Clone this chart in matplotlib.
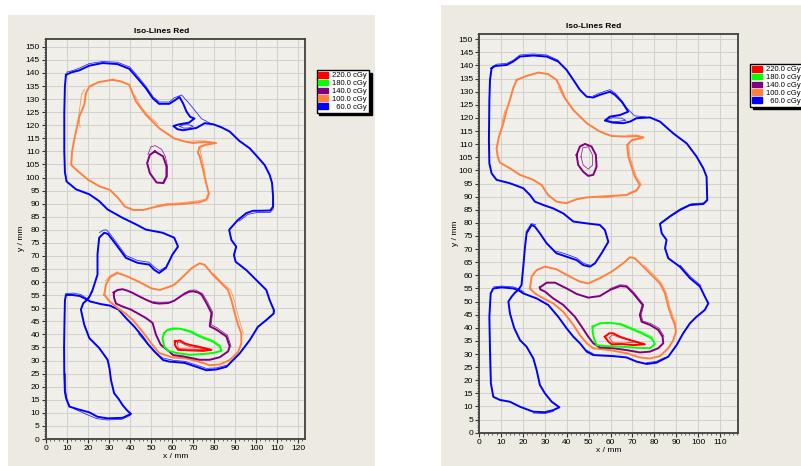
import matplotlib
matplotlib.use("Agg")
import matplotlib.pyplot as plt
import numpy as np
from matplotlib.patches import Patch, Rectangle
from matplotlib.ticker import MultipleLocator

plt.rcParams["font.family"] = ["Liberation Sans", "DejaVu Sans"]

DOSE_LABELS = ["220.0 cGy", "180.0 cGy", "140.0 cGy", "100.0 cGy", "  60.0 cGy"]
DOSE_COLORS = ["#ff0000", "#00ff00", "#800080", "#ff8040", "#0000ff"]
C220, C180, C140, C100, C60 = DOSE_COLORS

# ---- left plan: iso-lines (x, y) in mm ----
L_BLUE_OUTER = [
    (9.5, 139.3), (12, 140.2), (15.8, 141.0), (20.6, 142.8), (26.9, 143.8), (34, 143.4),
    (39.6, 141.6), (43.5, 138), (47.5, 134.2), (50.7, 130.4), (53.8, 128.2), (58.6, 128.2),
    (61, 129.4), (63.5, 130.8), (65.2, 128.4), (66.8, 125.3), (68.6, 123.2), (70.6, 122.6),
    (68, 121), (63, 120.3), (60.6, 119.7), (62.5, 118.5), (65.2, 118.1), (71.6, 119.0),
    (75.5, 120.8), (79.5, 120.4), (83.5, 119.2), (87.4, 117.6), (92, 114), (96.9, 111.2),
    (100.5, 108), (104, 104.8), (106.4, 101), (107.5, 98), (108, 93), (108, 88.9),
    (106.7, 87.4), (102, 87.3), (98.5, 87.3), (95.3, 86.4), (91.3, 83.8), (87.1, 80),
    (88.2, 76.1), (90.5, 73.6), (89.4, 70.4), (90.2, 67.8), (95.3, 64.6), (100.8, 60.2),
    (104.8, 57), (106.4, 53.1), (108.4, 49.3), (108.3, 48), (104.8, 45.5), (100.8, 42.9),
    (96.9, 37.8), (92.1, 32.7), (89, 30.2), (85.8, 27.6), (81, 26.6), (76.3, 26.3),
    (71.6, 27.6), (66, 29.1), (60.5, 29.5), (58.6, 29.6), (55.7, 30.2), (52.3, 32.9),
    (48.6, 36.2), (45.9, 39.2), (42, 43), (38, 46.3), (34.5, 49.5), (30.5, 51),
    (26.1, 51.6), (21, 52.6), (19.6, 53.3), (20.4, 54), (22.2, 57.1), (24.5, 62.9),
    (24.5, 70.6), (25.3, 77), (27.7, 78.9), (29.5, 78.4), (33.3, 74.4), (38, 69.3),
    (43.5, 67.4), (49.1, 66.7), (51.5, 64.7), (53.8, 63.5), (57, 65.4), (60.2, 70.6),
    (62.8, 73.6), (61, 77), (55.4, 78.9), (47.5, 80.1), (42.8, 82.1), (36.4, 84.6),
    (29.3, 87.8), (25.3, 91), (20.6, 93.6), (14.3, 95.5), (9.8, 98.5), (9, 102),
    (8.7, 110), (8.7, 125), (9, 135), (9.5, 139.3),
]
L_BLUE_LOWER = [
    (19.6, 53.3), (16.1, 54.7), (12.5, 55.1), (9.5, 55.1), (9, 53), (8.8, 45), (8.6, 35),
    (8.7, 25), (9, 18), (9.6, 15.5), (11.1, 12.4), (15.5, 11.3), (20.6, 10.2), (24.5, 8.5),
    (29.3, 7.9), (36.4, 8.1), (40.4, 9.6), (38.5, 11), (36.4, 13), (34.4, 15.5),
    (32.4, 17.5), (30.9, 22.6), (30.2, 27), (29.3, 30.3), (25.3, 34.8), (20.6, 38.6),
    (18.2, 43.7), (16.6, 49.5), (17.7, 51.9), (19.6, 53.3),
]
L_ORANGE_UPPER = [
    (31.7, 137.4), (35.5, 136.8), (39.6, 135.5), (42.8, 129.1), (47.5, 124), (53.8, 118.9),
    (60.9, 115), (66, 113.8), (69.9, 113.2), (73.1, 113.5), (77, 113.6), (81, 113.2),
    (76.5, 112.7), (73, 111.7), (72.3, 109.5), (73.1, 108.1), (74.7, 103), (76, 98.5),
    (77.4, 94), (76.3, 91.5), (73.1, 90.6), (65.2, 89.9), (57.3, 89.6), (52.6, 88.9),
    (46.2, 87.6), (41.5, 87.6), (37.5, 88.9), (34.4, 92.1), (30.4, 95.3), (25.6, 96.6),
    (20.1, 99.1), (15.4, 102.3), (12, 104.8), (12.4, 109.9), (13.9, 116.3), (15.8, 123.3),
    (18.2, 127.8), (19, 132.3), (20.6, 134.8), (25, 136.5), (31.7, 137.4),
]
L_PURPLE_UPPER = [
    (51.8, 110), (55.7, 108.1), (57.3, 104.3), (57.3, 100.4), (55.7, 97.9), (52.6, 98.1),
    (49.4, 101.7), (48.1, 105.5), (49.4, 108.7), (51.8, 110),
]
L_ORANGE_LOWER = [
    (27.7, 55.2), (28.5, 59), (30.5, 62), (34.1, 63.5), (38.3, 62.3), (44.3, 60.1),
    (50.2, 57.6), (54.1, 57), (58.9, 58.3), (61, 59), (64.4, 61.5), (69.2, 65.3),
    (73.1, 67.2), (75.5, 66.6), (79.5, 62.7), (82.6, 60.2), (86.6, 57), (88.2, 53.1),
    (89.8, 48), (91.4, 43.6), (92.9, 40.4), (92.9, 36.5), (91.4, 33.3), (87.4, 30.2),
    (82.6, 28.5), (77.9, 28.2), (73.1, 29.5), (66.8, 30.8), (60.5, 31.2), (58.6, 31.6),
    (53.8, 32.9), (50.7, 36), (45.9, 41.1), (41.2, 45.6), (37.5, 48.2), (34.1, 50.1),
    (30.4, 52.5), (27.7, 55.2),
]
L_PURPLE_LOWER = [
    (32.2, 56), (34, 57), (36.4, 57.3), (38.5, 56.8), (41.2, 55.9), (44, 54.7), (47.5, 53.3),
    (51, 52.1), (53.8, 51.8), (58.1, 52), (61, 52.9), (65.2, 55.2), (68, 56.3), (70, 56.5),
    (72.5, 56), (74, 55.2), (76.3, 52), (78.7, 48.2), (77.9, 43.1), (81.1, 41.8),
    (85.8, 39.2), (87.4, 35.4), (86.6, 33.5), (82.7, 31.3), (77.9, 30.3), (73.2, 30.3),
    (65.2, 31.6), (60.5, 32.1), (58.6, 33.5), (54.6, 36), (52.3, 39.9), (50.7, 44.4),
    (47.5, 46.3), (40.4, 49.5), (36, 50.8), (33.3, 51.8), (32.4, 54), (32.2, 56),
]
L_GREEN = [
    (56.2, 40.5), (57.8, 41.8), (60.5, 42.3), (63.7, 42.2), (68.4, 41.1), (73.2, 39.2),
    (79.5, 37.2), (82.7, 35.4), (83.5, 33.7), (79.5, 32.9), (74.7, 32.5), (68.4, 32.2),
    (62.1, 32.9), (58, 33.8), (56.2, 35.4), (55.4, 38.6), (56.2, 40.5),
]
L_RED = [
    (61.3, 37.3), (63.7, 37.7), (66, 36.6), (68.4, 36), (73.2, 35.2), (78.7, 34.1),
    (74.7, 33.7), (68.4, 33.9), (62.8, 34.1), (61.3, 36), (61.3, 37.3),
]
L_BLUE_EYE = [(63.6, 119.6), (65.5, 120.2), (68, 120.2), (70, 119.6), (68, 119.0), (65.5, 118.9), (63.6, 119.6)]

# second (thin) traces of the same levels, where they part from the first
L_THIN_BLUE = [
    [(9.8, 140.3), (13, 141), (16, 141.9), (20.6, 143.6), (27, 144.4), (34, 144.1), (39.8, 142.3),
     (43.8, 138.6), (47.8, 134.6), (51, 130.8), (54, 128.9), (58.6, 128.9), (61, 130.5),
     (64.5, 131.6), (69, 127.5), (74, 122.5), (78, 120.8)],
    [(108.3, 90), (108, 87.8), (106.5, 86.6), (100, 86.6), (96, 85.9), (91.8, 83.3)],
    [(104.5, 45.2), (108, 47.6), (108.7, 49.2)],
    [(25.5, 79), (27.2, 79.9), (28.8, 80), (30, 78.9), (33.5, 75.2), (38, 70.2), (43.5, 68.3),
     (49, 67.6), (51.8, 65.6), (54, 64.4), (56.5, 65.6)],
    [(9.3, 55.6), (13, 55.8), (16.5, 55.3), (19.5, 53.7), (21, 55), (22.3, 56.5)],
    [(44, 40.2), (48, 36.6), (51.5, 33.3), (55.5, 31), (60.5, 30.1), (66, 29.7), (71.6, 28.3),
     (76.3, 27.0), (81, 27.2), (85.8, 28.2)],
    [(13, 11.7), (19.3, 9.4), (24.1, 7.8), (28.8, 7.3), (36, 7.5), (40, 9)],
    [(9.3, 25), (9.4, 18), (10, 15), (11.5, 12.3)],
]
L_THIN_ORANGE = [
    [(16.2, 119), (15.6, 124), (16.3, 128), (16.9, 131.8), (18.3, 133.8)],
    [(68, 113.9), (72, 114.1), (76, 114), (80.3, 113.1), (76, 112.3), (74, 111.8), (73.4, 110),
     (74.6, 106), (75.7, 101.5)],
    [(42.3, 131.5), (45.2, 127), (48.5, 124), (53.2, 120.5)],
    [(52.6, 89.3), (57.3, 90), (65.2, 90.4), (73, 91.2), (77, 92), (77.9, 94)],
    [(79.8, 63.3), (83.8, 59.8), (87.8, 57), (89.6, 53), (91.1, 48), (92.6, 43.7), (93.9, 40.4)],
    [(28.2, 60.5), (30.8, 62.6), (34.1, 64)],
]
L_THIN_PURPLE = [
    [(48.5, 108.8), (49.9, 111.8), (52, 112.2), (55, 110.8), (56.8, 108), (57.8, 104.3),
     (57.7, 100.4), (56, 97.6)],
    [(65.5, 55.7), (68.5, 56.9), (71, 57), (74.5, 55.6), (76.9, 52.3), (79.3, 48.5), (78.5, 43.8),
     (81.6, 42.4), (86.3, 39.7), (88, 35.5)],
    [(51, 52.5), (53.8, 52.3), (58.1, 52.4)],
]
L_THIN_GREEN = [[(58, 41.4), (63.7, 42.3), (68.4, 41.6), (73.2, 39.7), (79.5, 37.7), (83, 35.8)]]
L_THIN_RED = [[(62.5, 36.8), (64, 37), (66.2, 36), (68.5, 35.3), (73, 34.8), (77, 34.2),
               (72, 34.3), (66, 34.5), (63, 34.6), (62.5, 36.8)]]

# ---- right plan ----
R_BLUE_OUTER = [
    (5.6, 138.9), (7.2, 139.8), (12.5, 140.2), (15.5, 141.5), (18.6, 143.4), (24.7, 143.8),
    (30.8, 143.4), (36.1, 141.5), (39.9, 138.3), (43, 134.5), (46, 130.7), (49.1, 128.1),
    (52.1, 127.8), (55.1, 128.8), (59.7, 130), (62, 128.8), (65.1, 126.2), (66.6, 124.3),
    (68.1, 122.4), (64.3, 121.1), (59.7, 120.5), (57.4, 119), (61.2, 118.2), (65.8, 118),
    (68.9, 118.6), (71.9, 119.9), (78, 120.2), (82.6, 118.6), (88.7, 114.1), (94.8, 110.3),
    (99.3, 105.3), (102.4, 100.8), (103.9, 97.6), (104.2, 88.7), (102.4, 87.2), (96.3, 86.8),
    (91.7, 84.9), (87.1, 82.4), (82.6, 79.6), (83.4, 76), (85.6, 73.5), (84.9, 70.3),
    (86.4, 66.5), (91.7, 63.3), (96.3, 58.9), (100.9, 55.7), (103.1, 51.9), (104.7, 49.3),
    (103.1, 46.8), (99.3, 44.2), (96.3, 41.7), (93.2, 37.9), (90.2, 33.4), (86.4, 29),
    (81, 26.7), (76.5, 26.2), (71.9, 27.1), (67.3, 28.7), (61.2, 29.2), (52.1, 29.6),
    (49.1, 30.9), (46, 34.1), (43, 36.6), (39.9, 39.8), (36.1, 44.2), (31.5, 48.7),
    (26.2, 51.2), (20.1, 53.1), (17.8, 54.4), (19.3, 56.3), (20.1, 63.3), (20.9, 70.9),
    (21.6, 76), (23.9, 79.2), (25.4, 78.6), (27.7, 76), (30.8, 72.2), (35.3, 68.4),
    (39.9, 67.1), (44.5, 65.8), (47.5, 63.9), (50.6, 63.3), (52.9, 64.6), (55.9, 68.4),
    (59, 72.8), (57.4, 77.3), (55.1, 79.2), (49.1, 79.8), (43, 80.5), (38.4, 83.6),
    (33.8, 85.5), (29.3, 86.8), (25.4, 88.1), (23.2, 90.6), (20.1, 93.2), (14, 95.1),
    (7.9, 96.4), (5.6, 98.9), (4.6, 102.7), (4.4, 111.6), (4.6, 126.9), (4.9, 134.5),
    (5.6, 138.9),
]
R_BLUE_LOWER = [
    (17.8, 54.4), (15.5, 55), (10.2, 55.4), (6.4, 55), (5.2, 53.1), (4.6, 44.2), (4.9, 31.5),
    (5.3, 18.8), (6.4, 13.7), (9.4, 12.5), (14, 11.8), (18.6, 9.9), (24.7, 8), (30, 7.8),
    (33.8, 8.6), (36.6, 9.7), (33.1, 11.8), (30, 15), (27.7, 18.2), (26.2, 23.9),
    (24.7, 28.3), (21.6, 32.8), (18.6, 35.3), (16, 39.8), (14, 45.5), (13.3, 50),
    (14.8, 51.9), (16.3, 53.4), (17.8, 54.4),
]
R_ORANGE_UPPER = [
    (17.1, 134.5), (21.6, 136), (27, 137.3), (31.5, 136.7), (35.3, 134.5), (36.9, 131.9),
    (39.2, 127.5), (43, 123), (49.1, 118), (55.1, 114.8), (60.5, 113.1), (67.3, 112.9),
    (71.9, 113.1), (75, 112.5), (69.6, 111.4), (67.6, 109.7), (68.1, 105.3), (69.6, 101.4),
    (71.1, 97.6), (73.4, 94.4), (71.9, 92.3), (67.3, 90.6), (61.2, 90.3), (55.1, 90),
    (49.1, 89.7), (44.5, 89), (39.9, 87.5), (35.3, 88.1), (31.5, 90.6), (28.5, 94.4),
    (24.7, 96.4), (18.6, 98.3), (14, 100.8), (9.4, 103), (8.4, 105.3), (7.9, 108.4),
    (9, 112.9), (11, 118), (12.5, 123), (14, 126.9), (15.5, 131.3), (17.1, 134.5),
]
R_PURPLE_UPPER = [
    (44.5, 105.9), (46, 109.1), (48.3, 110.1), (51.3, 109.1), (53.3, 105.9), (53.6, 101.4),
    (52.1, 98.3), (49.8, 97.9), (47.5, 99.5), (45.2, 102.1), (44.5, 105.9),
]
R_ORANGE_LOWER = [
    (23.2, 55), (23.9, 59.5), (26.2, 62), (30, 63.3), (35.3, 62.3), (41.4, 59.5), (46, 57.6),
    (49.8, 56.9), (55.1, 58.9), (60.5, 61.4), (65.8, 64.6), (68.9, 66.9), (71.1, 66.5),
    (75, 63.3), (79.5, 59.5), (82.6, 56.9), (84.9, 53.1), (86.4, 48), (87.9, 44.2),
    (89.4, 41.1), (89.9, 38.5), (88.7, 35.3), (86.4, 32.2), (82.6, 29.2), (78, 28.3),
    (73.4, 28.7), (67.3, 30.3), (59.7, 31.5), (52.1, 32.2), (49.1, 34.1), (46, 37.2),
    (43, 41.1), (38.4, 46.1), (33.8, 49.3), (29.3, 51.2), (25.4, 53.1), (23.2, 55),
]
R_PURPLE_LOWER = [
    (27.7, 55.4), (30.8, 57.2), (34.6, 57.2), (39.9, 55), (44.5, 52.9), (49.8, 51.5),
    (55.1, 52.1), (59.7, 54.4), (64.3, 55.9), (67.3, 55.7), (70.4, 53.1), (73.4, 50),
    (74.7, 48.7), (73.4, 44.9), (74.2, 42.3), (78, 41.1), (81.8, 39.2), (83.8, 36.6),
    (84.1, 34.1), (81.8, 32.2), (78, 30.9), (73.4, 30.6), (67.3, 31.5), (61.2, 32.2),
    (55.1, 32.5), (52.1, 34.1), (49.8, 36.6), (46.8, 40.4), (43.7, 44.2), (38.4, 48.7),
    (33.8, 51.2), (30, 53.8), (27.9, 54.6), (27.7, 55.4),
]
R_GREEN = [
    (51.8, 40.4), (55.1, 41.7), (59.7, 41.9), (64.3, 41.4), (68.9, 39.8), (74.2, 37.9),
    (78.8, 36), (80.3, 33.8), (78, 32.2), (71.9, 32.4), (64.3, 32.8), (58.2, 33),
    (53.6, 33.4), (52.4, 36), (51.8, 38.5), (51.8, 40.4),
]
R_RED = [
    (57.4, 36.6), (59.4, 37.9), (61.2, 37.9), (64.3, 36.6), (68.9, 35.3), (75.7, 33.7),
    (70.4, 33.4), (65.1, 33.8), (60.5, 33.7), (59, 34.7), (57.4, 36.6),
]
R_BLUE_EYE = [(58.5, 119.4), (61, 120.1), (65, 119.9), (67, 119.1), (63, 118.6), (59, 118.8), (58.5, 119.4)]

R_THIN_BLUE = [
    [(6, 139.6), (8, 140.5), (12.5, 140.8), (15.5, 142), (18.6, 144), (24.7, 144.4), (30.8, 144),
     (36.1, 142)],
    [(52.1, 128.4), (55.1, 129.5), (59.7, 130.8), (62.3, 129.3), (65.5, 126.2), (67.5, 123.7),
     (71, 120.8), (76, 120.4)],
    [(104.4, 88.5), (103, 87.6), (97, 87.3), (92, 85.4), (87.5, 82.9), (82.9, 80)],
    [(91.9, 63.8), (96.6, 59.4), (101.2, 56.2)],
    [(21.3, 76.5), (23.7, 79.7), (25.7, 79.3)],
    [(35.3, 69.2), (40, 68), (44.5, 66.6), (47.8, 64.5), (50.5, 63.9)],
    [(84.6, 28.6), (81, 27.2), (76.5, 26.7)],
    [(52.1, 30.1), (49.1, 31.4)],
    [(6.6, 55.6), (10.2, 55.9), (15.5, 55.6), (17.8, 54.9), (20.5, 53.6)],
    [(24.7, 7.5), (30, 7.3), (33.8, 8.1)],
    [(4.9, 31.5), (5.1, 20)],
]
R_THIN_ORANGE = [
    [(36, 131.9), (38.5, 128), (42.5, 123.5), (48.5, 118.5)],
    [(67.3, 113.4), (71.9, 113.5), (75.3, 112.7), (70, 111.9), (68.3, 110), (68.8, 105.5),
     (70.2, 101.6), (71.8, 97.8), (74, 94.6), (72.4, 92.8), (68, 91.3)],
    [(61.2, 89.9), (55.1, 89.5)],
    [(10.3, 118.2), (11.8, 123)],
    [(75.5, 63.8), (80, 60), (83.2, 57.2), (85.5, 53.3), (87, 48.2), (88.5, 44.4), (90, 41.3)],
]
R_THIN_PURPLE = [
    [(46.5, 105.2), (47.3, 108.6), (49.8, 109), (51.8, 105.8), (51.8, 102), (49.8, 100.5),
     (47.5, 102), (46.5, 105.2)],
    [(59.7, 54.9), (64.3, 56.4), (67.3, 56.2), (70.8, 53.4), (73.8, 50.2), (75.2, 48.8), (74, 45),
     (74.7, 42.6), (78.5, 41.6), (82.2, 39.8), (84.4, 36.8)],
]
R_THIN_GREEN = [[(64.3, 41.8), (68.9, 40.3), (74.2, 38.4), (79.2, 36.5)]]
R_THIN_RED = [[(59.5, 36.3), (61, 37.3), (63.5, 36.5), (67.5, 35.5), (72, 34.6), (66, 34.2),
               (61, 34.3), (59.5, 36.3)]]

W, H = 801, 466
PANEL_BG = "#edeae2"
AXES_BG = "#f1efe9"


def fx(px):
    return px / W


def fy(py):
    return 1 - py / H


def draw_plan(ax, thick, thin, eye, xmax, ymax):
    ax.set_facecolor(AXES_BG)
    for pts, c in thick:
        a = np.array(pts)
        ax.plot(a[:, 0], a[:, 1], color=c, lw=1.4, solid_joinstyle="round", zorder=3)
    for segs, c in thin:
        for seg in segs:
            a = np.array(seg)
            ax.plot(a[:, 0], a[:, 1], color=c, lw=0.6, alpha=0.8, zorder=3)
    e = np.array(eye)
    ax.plot(e[:, 0], e[:, 1], color=C60, lw=0.6, alpha=0.8, zorder=3)

    ax.set_xlim(0, xmax)
    ax.set_ylim(0, ymax)
    ax.xaxis.set_major_locator(MultipleLocator(10))
    ax.xaxis.set_minor_locator(MultipleLocator(2))
    ax.yaxis.set_major_locator(MultipleLocator(5))
    ax.yaxis.set_minor_locator(MultipleLocator(1))
    ax.grid(True, which="major", color="#d2d2cc", lw=0.75, zorder=0)
    ax.tick_params(which="major", direction="out", length=3, width=0.8, labelsize=6, pad=1.5,
                   colors="#333333", labelcolor="black")
    ax.tick_params(which="minor", direction="out", length=1.5, width=0.6, colors="#555555")
    for s in ax.spines.values():
        s.set_color("#404040")
        s.set_linewidth(1.3)


fig = plt.figure(figsize=(W / 100, H / 100), dpi=100)
fig.patches.append(Rectangle((fx(7.5), 0), fx(375) - fx(7.5), fy(15), transform=fig.transFigure,
                             facecolor=PANEL_BG, edgecolor="none", zorder=-2))
fig.patches.append(Rectangle((fx(441), 0), 1 - fx(441), fy(5), transform=fig.transFigure,
                             facecolor=PANEL_BG, edgecolor="none", zorder=-2))

ax_l = fig.add_axes([fx(46), fy(439), fx(305) - fx(46), fy(39) - fy(439)])
ax_r = fig.add_axes([fx(479.3), fy(432.7), fx(738.3) - fx(479.3), fy(34) - fy(432.7)])

draw_plan(ax_l,
          [(L_BLUE_OUTER, C60), (L_BLUE_LOWER, C60), (L_ORANGE_UPPER, C100), (L_ORANGE_LOWER, C100),
           (L_PURPLE_UPPER, C140), (L_PURPLE_LOWER, C140), (L_GREEN, C180), (L_RED, C220)],
          [(L_THIN_BLUE, C60), (L_THIN_ORANGE, C100), (L_THIN_PURPLE, C140),
           (L_THIN_GREEN, C180), (L_THIN_RED, C220)],
          L_BLUE_EYE, 123.2, 153)
draw_plan(ax_r,
          [(R_BLUE_OUTER, C60), (R_BLUE_LOWER, C60), (R_ORANGE_UPPER, C100), (R_ORANGE_LOWER, C100),
           (R_PURPLE_UPPER, C140), (R_PURPLE_LOWER, C140), (R_GREEN, C180), (R_RED, C220)],
          [(R_THIN_BLUE, C60), (R_THIN_ORANGE, C100), (R_THIN_PURPLE, C140),
           (R_THIN_GREEN, C180), (R_THIN_RED, C220)],
          R_BLUE_EYE, 118.4, 152)

for (tx, ty), (xx, xy), (yx, yy), (lx, ly) in [
    ((161.7, 31.5), (176, 456.5), (21.5, 238), (316.5, 70)),
    ((594, 26), (609, 450.5), (455, 233), (750, 64)),
]:
    fig.text(fx(tx), fy(ty), "Iso-Lines Red", ha="center", va="center", fontsize=6,
             fontweight="bold")
    fig.text(fx(xx), fy(xy), "x / mm", ha="center", va="center", fontsize=6)
    fig.text(fx(yx), fy(yy), "y / mm", ha="center", va="center", fontsize=6, rotation=90)
    handles = [Patch(facecolor=c, edgecolor=c) for c in DOSE_COLORS]
    fig.legend(handles, DOSE_LABELS, loc="upper left", bbox_to_anchor=(fx(lx), fy(ly)),
               fontsize=5.5, frameon=True, fancybox=False, edgecolor="black",
               shadow={"color": "black", "alpha": 1.0}, borderpad=0.25, labelspacing=0.05,
               handlelength=1.3, handleheight=0.75, handletextpad=0.5, borderaxespad=0)

fig.savefig("out.png", dpi=100, facecolor="white")
